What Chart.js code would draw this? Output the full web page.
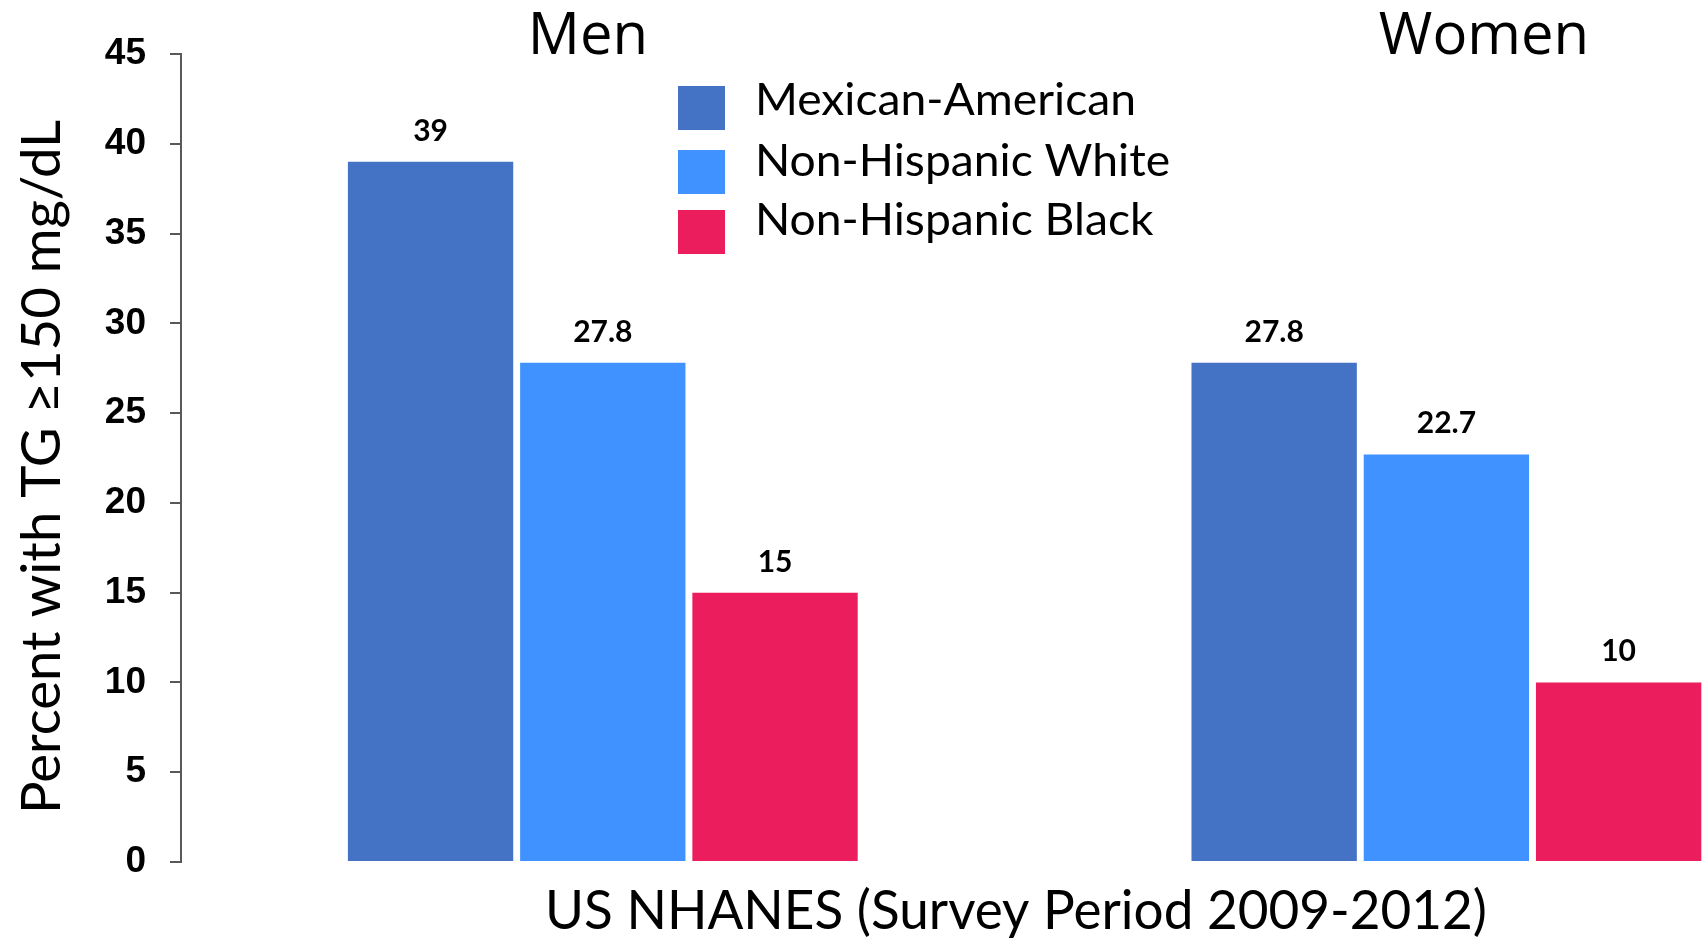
<!DOCTYPE html>
<html lang="en">
<head>
<meta charset="UTF-8"/>
<title>Percent with TG ≥150 mg/dL — US NHANES 2009-2012</title>
<script src="https://cdn.jsdelivr.net/npm/chart.js@4.4.7/dist/chart.umd.min.js"></script>
<style>
*{box-sizing:border-box;margin:0;padding:0}
html,body{background:#fff;overflow:hidden}
#wrap{width:1702px;height:940px}
</style>
</head>
<body>
<div id="wrap"><canvas id="tgChart" width="1702" height="940"></canvas></div>
<script>
// groups along the x axis and the three series
const categories   = ['Men', 'Women'];
const seriesNames  = ['Mexican-American', 'Non-Hispanic White', 'Non-Hispanic Black'];
const mexAmerican  = [39, 27.8];
const nhWhite      = [27.8, 22.7];
const nhBlack      = [15, 10];
const seriesColors = ['#4472C4', '#3F92FF', '#EC1D5C'];
const yTicks       = [0, 5, 10, 15, 20, 25, 30, 35, 40, 45];

const yTitle = 'Percent with TG \u2265150 mg/dL';
const xTitle = 'US NHANES (Survey Period 2009-2012)';

const seriesValues = [mexAmerican, nhWhite, nhBlack];

const datasets = seriesNames.map((name, s) => ({
  label: name,
  data: categories.map((c, i) => ({ x: i + 1, y: seriesValues[s][i] })),
  backgroundColor: seriesColors[s],
  borderWidth: 0,
  categoryPercentage: 0.6125,
  barPercentage: 0.96,
}));

// draw text left-aligned at (x, y), stretched or squeezed horizontally by sx
function stretchText(ctx, text, x, y, sx) {
  ctx.save();
  ctx.translate(x, y);
  ctx.scale(sx, 1);
  ctx.textAlign = 'left';
  ctx.fillText(text, 0, 0);
  ctx.restore();
}

// value labels above each bar, plus headings, legend and axis titles
const annotations = {
  id: 'annotations',
  afterDatasetsDraw(chart) {
    const { ctx } = chart;
    ctx.save();
    ctx.fillStyle = '#000';
    ctx.textAlign = 'center';
    ctx.textBaseline = 'alphabetic';
    ctx.font = 'bold 30px Lato';
    chart.data.datasets.forEach((ds, s) => {
      chart.getDatasetMeta(s).data.forEach((bar, i) => {
        ctx.fillText(String(seriesValues[s][i]), bar.x, bar.y - 21);
      });
    });
    ctx.restore();
  },
  afterDraw(chart) {
    const { ctx } = chart;
    ctx.save();
    ctx.fillStyle = '#000';
    ctx.textBaseline = 'alphabetic';

    // group headings
    ctx.font = '58px "Open Sans"';
    ctx.textAlign = 'center';
    ctx.fillText(categories[0], 588, 54);
    ctx.fillText(categories[1], 1484, 54);

    // legend
    const boxTops = [86, 150, 210];
    const baselines = [115, 176, 235];
    ctx.font = '44px Lato';
    const legendScale = 381 / ctx.measureText(seriesNames[0]).width;
    seriesNames.forEach((name, s) => {
      ctx.fillStyle = seriesColors[s];
      ctx.fillRect(678, boxTops[s], 47, 44);
      ctx.fillStyle = '#000';
      stretchText(ctx, name, 755, baselines[s], legendScale);
    });

    // x title
    ctx.font = '54px Lato';
    stretchText(ctx, xTitle, 545, 929, 942 / ctx.measureText(xTitle).width);

    // y title, reading upwards
    ctx.font = '54px Lato';
    const yScaleX = 694 / ctx.measureText(yTitle).width;
    ctx.translate(59.5, 814);
    ctx.rotate(-Math.PI / 2);
    stretchText(ctx, yTitle, 0, 0, yScaleX);
    ctx.restore();
  }
};

new Chart(document.getElementById('tgChart'), {
  type: 'bar',
  data: { datasets },
  options: {
    responsive: false,
    animation: false,
    layout: { padding: { top: 54, bottom: 78, left: 0, right: 0 } },
    plugins: { legend: { display: false }, tooltip: { enabled: false } },
    scales: {
      x: {
        type: 'linear',
        display: false,
        offset: false,
        min: 0.5,
        max: 2.303,
        grid: { offset: false },
        ticks: { stepSize: 1, includeBounds: false },
      },
      y: {
        min: 0,
        max: 45,
        afterBuildTicks: (scale) => { scale.ticks = yTicks.map(v => ({ value: v })); },
        afterFit: (scale) => { scale.width = 181; },
        grid: { drawOnChartArea: false, drawTicks: true, tickLength: 11, color: '#595959', lineWidth: 2 },
        border: { display: true, color: '#595959', width: 2 },
        ticks: {
          padding: 24,
          color: '#000',
          font: { family: '"Liberation Sans", Arial, sans-serif', size: 37, weight: 'bold' },
        },
      },
    },
  },
  plugins: [annotations],
});
</script>
</body>
</html>
